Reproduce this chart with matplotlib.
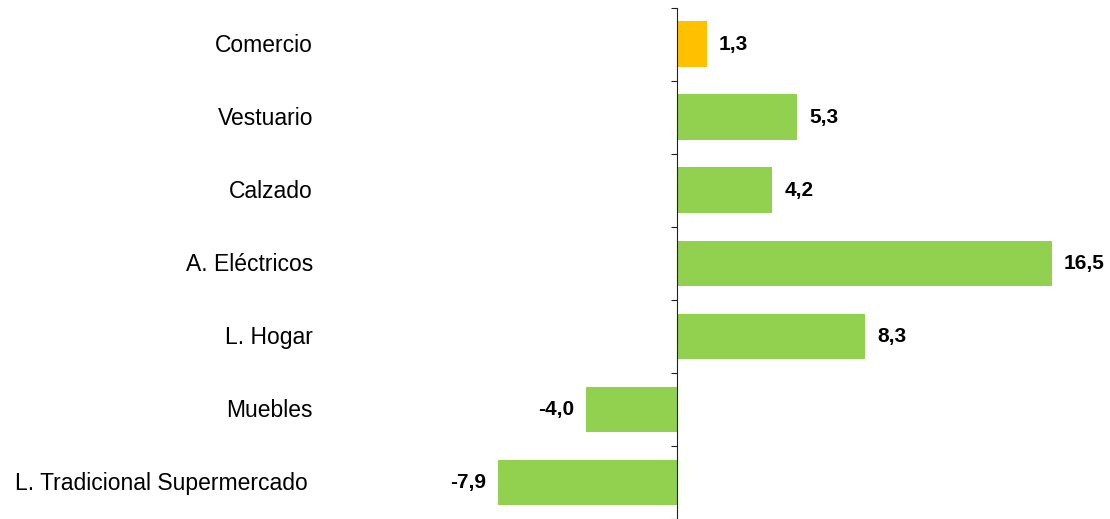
import matplotlib.pyplot as plt
import matplotlib.transforms as mtransforms

categorias = ["Comercio", "Vestuario", "Calzado", "A. Eléctricos",
              "L. Hogar", "Muebles", "L. Tradicional Supermercado"]
valores = [1.3, 5.3, 4.2, 16.5, 8.3, -4.0, -7.9]
colores = ["#FFC000"] + ["#92D050"] * 6

plt.rcParams['font.family'] = ['Liberation Sans', 'DejaVu Sans']

fig = plt.figure(figsize=(11.1, 5.19), dpi=100)
ax = fig.add_axes([0.3, 0.0, 0.7, 0.9846])

pos = list(range(len(categorias)))
bars = ax.barh(pos, valores, height=0.63, color=colores, zorder=2)

etiquetas = [f"{v:.1f}".replace(".", ",") for v in valores]
ax.bar_label(bars, labels=etiquetas, padding=8.5, fontsize=15, fontweight="bold")

ax.set_xlim(-15.15, 19.07)
ax.set_ylim(6.5, -0.5)

for s in ["top", "right", "bottom"]:
    ax.spines[s].set_visible(False)
ax.spines["left"].set_position(("data", 0))
ax.spines["left"].set_color("#222222")
ax.set_xticks([])
ax.set_yticks([p - 0.5 for p in pos] + [6.5])
ax.set_yticklabels([])
ax.tick_params(axis="y", direction="out", length=4, color="#222222")

trans = mtransforms.blended_transform_factory(ax.transAxes, ax.transData)
for p, c in zip(pos, categorias):
    x = -0.0257 if p < 6 else -0.0322
    ax.text(x, p + 0.02, c, transform=trans, ha="right", va="center", fontsize=16.5)

fig.savefig("out.png", dpi=100)
